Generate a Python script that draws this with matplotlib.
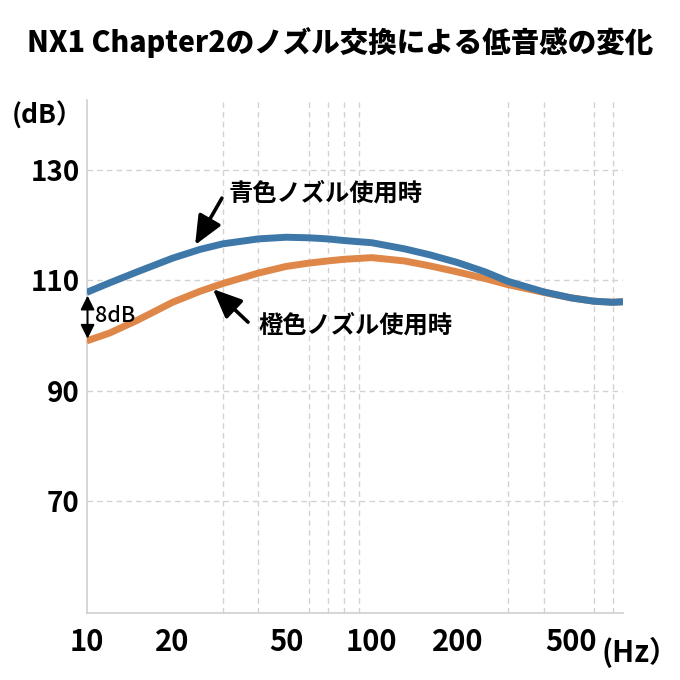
import matplotlib
matplotlib.use('Agg')
import matplotlib.pyplot as plt
from matplotlib.ticker import FixedLocator, NullFormatter, NullLocator

# ---------------- data ----------------
freq_hz = [10, 12, 15, 20, 25, 30, 40, 50, 60, 70, 80, 100, 130, 160, 200, 250, 300, 400, 500, 600, 700, 760]
blue_db = [107.8, 109.5, 111.5, 114.0, 115.6, 116.6, 117.5, 117.8, 117.7, 117.5, 117.2, 116.8,
           115.7, 114.6, 113.2, 111.5, 109.8, 107.9, 106.8, 106.2, 106.0, 106.1]
orange_db = [99.0, 100.4, 102.7, 106.0, 108.0, 109.4, 111.3, 112.5, 113.1, 113.5, 113.8, 114.1,
             113.5, 112.6, 111.5, 110.3, 109.2, 107.8, 106.8, 106.2, 106.0, 106.1]

x_ticks = [10, 20, 50, 100, 200, 500]
x_tick_labels = ['10', '20', '50', '100', '200', '500']
x_grid = [20, 30, 40, 50, 60, 70, 80, 90, 100, 200, 300, 400, 500, 600, 700]
y_ticks = [70, 90, 110, 130]
y_tick_labels = ['70', '90', '110', '130']

title = 'NX1 Chapter2のノズル交換による低音感の変化'
blue_label = '青色ノズル使用時'
orange_label = '橙色ノズル使用時'
diff_label = '8dB'
y_unit = '(dB）'
x_unit = '(Hz）'

NUM = ['Liberation Sans Narrow', 'Noto Sans CJK JP', 'DejaVu Sans']
JP = ['Noto Sans CJK JP', 'DejaVu Sans']

BLUE = '#3e78a8'
ORANGE = '#df8748'
GRID = '#d2d2d2'

fig = plt.figure(figsize=(6.8, 6.8), dpi=100)
fig.patch.set_facecolor('white')
ax = fig.add_axes([0.1275, 0.099, 0.7887, 0.754])
ax.set_xscale('log')
ax.set_xlim(10, 760)
ax.set_ylim(49.7, 142.7)

ax.xaxis.set_major_locator(FixedLocator(x_ticks))
ax.set_xticklabels(x_tick_labels)
ax.xaxis.set_minor_locator(FixedLocator(x_grid))
ax.xaxis.set_minor_formatter(NullFormatter())
ax.set_yticks(y_ticks)
ax.set_yticklabels(y_tick_labels)
ax.yaxis.set_minor_locator(NullLocator())

ax.tick_params(axis='both', which='both', length=0)
ax.tick_params(axis='x', pad=10)
ax.tick_params(axis='y', pad=5)
for lab in ax.get_xticklabels():
    lab.set_family(NUM); lab.set_fontsize(21); lab.set_fontweight('bold')
for lab in ax.get_yticklabels():
    lab.set_family(NUM); lab.set_fontsize(20); lab.set_fontweight('bold')

ax.grid(axis='x', which='minor', color=GRID, ls=(0, (4, 3)), lw=1.0)
ax.grid(axis='y', which='major', color=GRID, ls=(0, (4, 3)), lw=1.0)
ax.set_axisbelow(True)

for s in ['top', 'right']:
    ax.spines[s].set_visible(False)
for s in ['left', 'bottom']:
    ax.spines[s].set_color('#cfcfcf')
    ax.spines[s].set_linewidth(1.2)

ax.plot(freq_hz, orange_db, color=ORANGE, lw=5, solid_capstyle='butt', zorder=3)
ax.plot(freq_hz, blue_db, color=BLUE, lw=5, solid_capstyle='butt', zorder=4)

arrow_kw = dict(arrowstyle='-|>,head_length=0.8,head_width=0.35', color='black',
                lw=2.6, mutation_scale=22, shrinkA=0, shrinkB=0)
# blue label + arrow
ax.annotate('', xy=(24.0, 116.4), xytext=(29.8, 124.9), arrowprops=arrow_kw, zorder=6)
ax.text(68.6, 125.8, blue_label, ha='center', va='center', fontsize=17.5,
        fontweight='bold', family=JP, zorder=6)
# orange label + arrow
ax.annotate('', xy=(27.7, 108.4), xytext=(36.8, 102.4), arrowprops=arrow_kw, zorder=6)
ax.text(87.4, 101.8, orange_label, ha='center', va='center', fontsize=17.5,
        fontweight='bold', family=JP, zorder=6)

# 8dB double arrow
ax.annotate('', xy=(10.07, blue_db[0] - 0.6), xytext=(10.07, orange_db[0] + 0.4),
            arrowprops=dict(arrowstyle='<|-|>,head_length=0.6,head_width=0.3', color='black',
                            lw=1.4, mutation_scale=14, shrinkA=0, shrinkB=0), zorder=6)
ax.text(10.69, 103.5, diff_label, ha='left', va='center', fontsize=15.5,
        fontweight='medium', family=['Noto Sans CJK JP', 'DejaVu Sans'], zorder=6)

fig.text(0.069, 0.831, y_unit, ha='center', va='center', fontsize=19,
         fontweight='bold', family=NUM)
fig.text(0.941, 0.041, x_unit, ha='center', va='center', fontsize=21,
         fontweight='bold', family=NUM)

fig.text(0.5, 0.938, title, ha='center', va='center', fontsize=20.5,
         fontweight='heavy', family=JP)

fig.savefig('out.png', dpi=100, facecolor='white')
